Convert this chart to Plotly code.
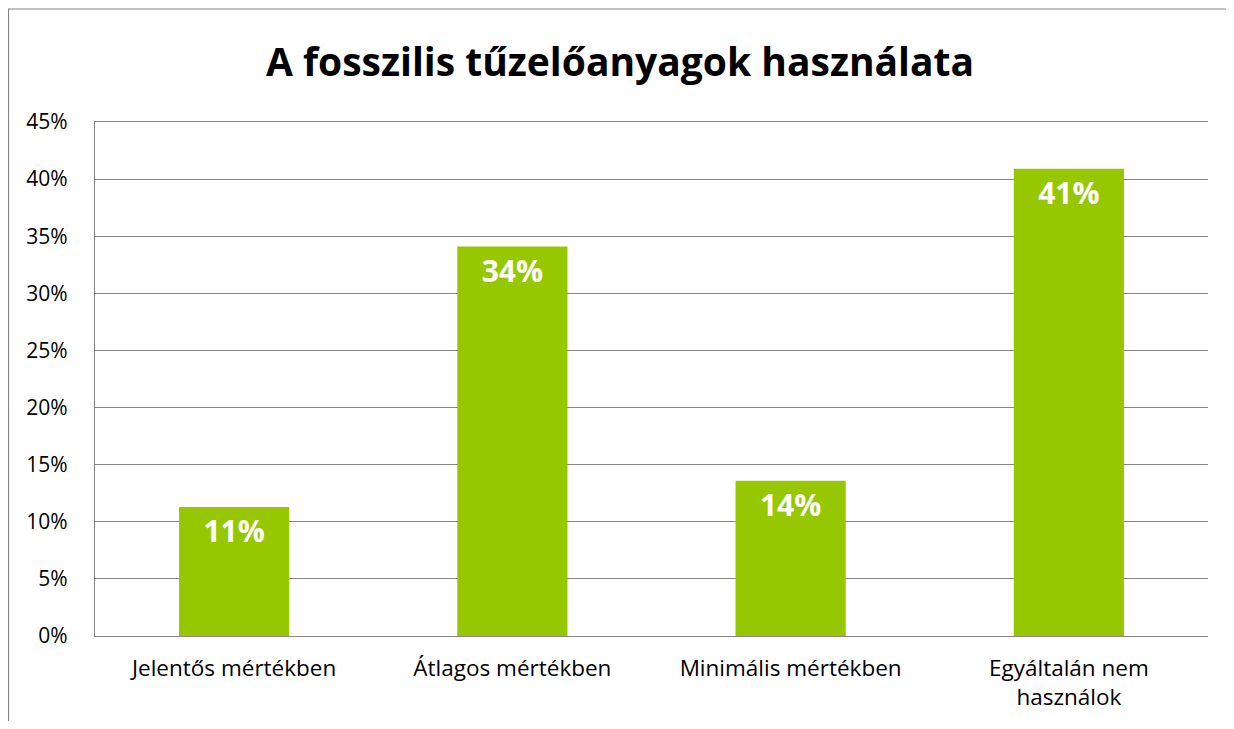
import plotly.graph_objects as go

categories = ["Jelentős mértékben", "Átlagos mértékben", "Minimális mértékben", "Egyáltalán nem<br>használok"]
values = [0.113, 0.341, 0.136, 0.409]
tick_vals = [0, 0.05, 0.10, 0.15, 0.20, 0.25, 0.30, 0.35, 0.40, 0.45]
title_text = "A fosszilis tűzelőanyagok használata"

# page has an 8px body margin, so the figure is offset by (8, 8)
OFF = 8
W, H = 1234 - 2 * OFF, 729 - 2 * OFF
L, T = 95 - OFF, 122 - OFF
R = (W + OFF) - 1208
B = (H + OFF) - 636
pw, ph = W - L - R, H - T - B

fig = go.Figure(go.Bar(
    x=categories, y=values,
    marker=dict(color="#96C700", line=dict(width=0)),
    texttemplate="%{y:.0%}",
    textposition="inside",
    insidetextanchor="end",
    textangle=0,
    textfont=dict(family="Open Sans", size=30, color="white", weight="bold"),
    constraintext="none",
    cliponaxis=False,
))

fig.update_layout(
    width=W, height=H,
    margin=dict(l=L, r=R, t=T, b=B, autoexpand=False),
    paper_bgcolor="white", plot_bgcolor="white",
    bargap=0.604,
    showlegend=False,
    title=dict(text="<b>" + title_text + "</b>", x=(620 - OFF) / W, xanchor="center",
               y=1 - (62 - OFF) / H, yanchor="middle",
               font=dict(family="Open Sans", size=39, color="black")),
    font=dict(family="Open Sans", color="black"),
    xaxis=dict(showgrid=False, showline=True, mirror=True, linecolor="#868686", linewidth=1.3,
               ticks="", ticklabelstandoff=12, automargin=False,
               tickfont=dict(size=22.5, color="black")),
    yaxis=dict(range=[0, 0.45], tickvals=tick_vals, tickformat=".0%",
               showgrid=True, gridcolor="#868686", gridwidth=1.3,
               showline=True, linecolor="#868686", linewidth=1.3,
               zeroline=True, zerolinecolor="#868686", zerolinewidth=1.3,
               ticks="", ticklen=0, ticklabelstandoff=22, automargin=False,
               tickfont=dict(size=21, color="black")),
)

fig.add_shape(type="rect", xref="paper", yref="paper",
              x0=(0.5 - L) / pw, x1=(W + 20 - L) / pw,
              y0=(-(B + 30)) / ph, y1=1 + (T - 1) / ph,
              line=dict(color="#868686", width=1.2), fillcolor="rgba(0,0,0,0)", layer="below")

fig.write_html("out.html")
